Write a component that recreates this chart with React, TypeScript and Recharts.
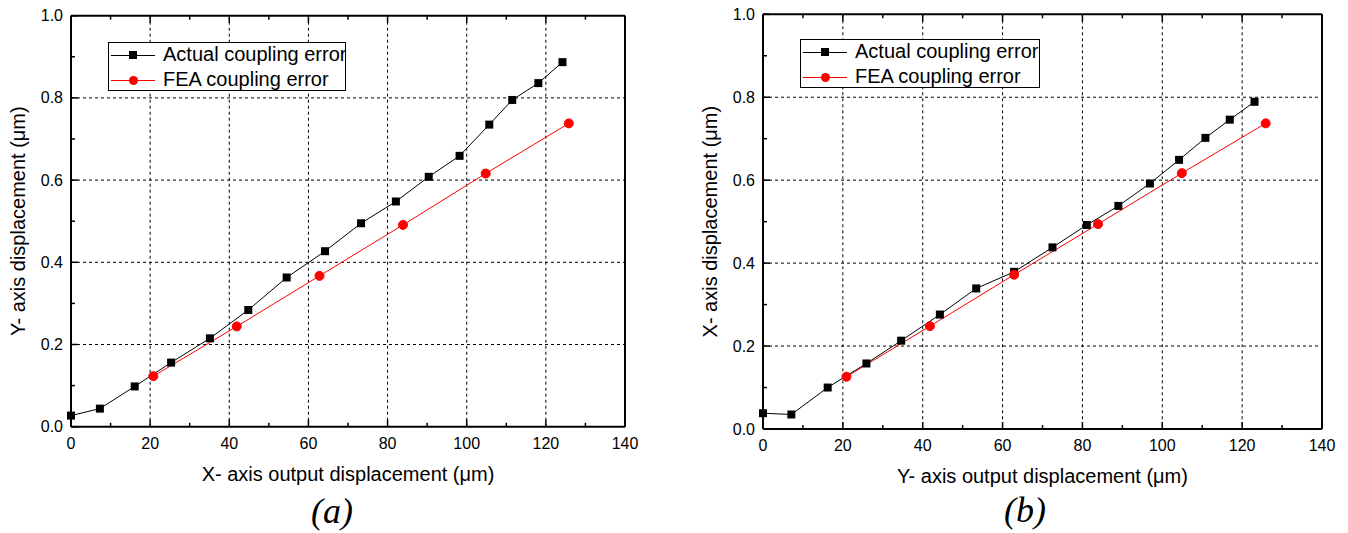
import { LineChart, Line, XAxis, YAxis, CartesianGrid, Legend, Label } from 'recharts';

const FONT = '"Liberation Sans", Arial, Helvetica, sans-serif';
const SERIF = '"Liberation Serif", "Times New Roman", serif';

// axis ticks (majors get labels + grid, minors only a short inward mark)
const X_TICKS = [0, 10, 20, 30, 40, 50, 60, 70, 80, 90, 100, 110, 120, 130, 140];
const X_GRID = [20, 40, 60, 80, 100, 120];
const Y_TICKS = [0, 0.1, 0.2, 0.3, 0.4, 0.5, 0.6, 0.7, 0.8, 0.9, 1.0];
const Y_GRID = [0.2, 0.4, 0.6, 0.8];

// (a) X-axis output displacement vs Y-axis displacement
const aActualX = [0, 7.3, 16.1, 25.3, 35.1, 44.8, 54.5, 64.2, 73.3, 82.1, 90.4, 98.2, 105.7, 111.5, 118.1, 124.2];
const aActualY = [0.027, 0.044, 0.098, 0.156, 0.215, 0.284, 0.363, 0.427, 0.495, 0.548, 0.608, 0.659, 0.735, 0.795, 0.836, 0.887];
const aFeaX = [20.8, 41.9, 62.8, 83.9, 104.8, 125.8];
const aFeaY = [0.123, 0.244, 0.367, 0.491, 0.616, 0.738];

// (b) Y-axis output displacement vs X-axis displacement
const bActualX = [0, 7.1, 16.2, 25.9, 34.6, 44.3, 53.4, 62.9, 72.5, 81.1, 89.0, 96.9, 104.2, 110.8, 116.9, 123.1];
const bActualY = [0.038, 0.035, 0.1, 0.158, 0.213, 0.276, 0.339, 0.379, 0.438, 0.492, 0.538, 0.592, 0.649, 0.702, 0.746, 0.789];
const bFeaX = [20.9, 41.8, 62.9, 83.9, 104.9, 125.9];
const bFeaY = [0.126, 0.248, 0.372, 0.494, 0.617, 0.737];

const ACTUAL = 'Actual coupling error';
const FEA = 'FEA coupling error';

const toPoints = (xs: number[], ys: number[]) => xs.map((x, i) => ({ x, y: ys[i] }));

const isMajorX = (v: number) => v % 20 === 0;
const isMajorY = (v: number) => Math.round(v * 10) % 2 === 0;
const FRAME = { stroke: '#000', strokeWidth: 2 };

const tickBottom = ({ x, y, payload }: any) => (
    <g>
        <line x1={x} x2={x} y1={y} y2={y - (isMajorX(payload.value) ? 7 : 4)} stroke="#000" strokeWidth={1.5} />
        <text x={x} y={y + 22} textAnchor="middle" fontSize={16} fontFamily={FONT} fill="#000">
            {isMajorX(payload.value) ? payload.value : ''}
        </text>
    </g>
);

const tickTop = ({ x, y, payload }: any) => (
    <line x1={x} x2={x} y1={y} y2={y + (isMajorX(payload.value) ? 7 : 4)} stroke="#000" strokeWidth={1.5} />
);

const tickLeft = ({ x, y, payload }: any) => (
    <g>
        <line x1={x} x2={x + (isMajorY(payload.value) ? 7 : 4)} y1={y} y2={y} stroke="#000" strokeWidth={1.5} />
        <text x={x - 8} y={y + 5.5} textAnchor="end" fontSize={16} fontFamily={FONT} fill="#000">
            {isMajorY(payload.value) ? payload.value.toFixed(1) : ''}
        </text>
    </g>
);

const tickRight = ({ x, y, payload }: any) => (
    <line x1={x} x2={x - (isMajorY(payload.value) ? 7 : 4)} y1={y} y2={y} stroke="#000" strokeWidth={1.5} />
);

const SquareDot = ({ cx, cy }: any) => <rect x={cx - 4} y={cy - 4} width={8} height={8} fill="#000" />;

function LegendBox({ payload, width }: any) {
    const rows = (payload || []).filter((e: any) => e.value === ACTUAL || e.value === FEA);
    return (
        <div style={{ border: '1px solid #000', background: '#fff', width, height: 49, boxSizing: 'border-box', fontFamily: FONT, fontSize: 20, color: '#000' }}>
            {rows.map((entry: any, i: number) => (
                <div key={entry.value} style={{ display: 'flex', alignItems: 'center', height: 25, marginTop: i === 0 ? -1 : 0 }}>
                    <div style={{ position: 'relative', width: 44, height: 14, marginLeft: 2, flex: 'none' }}>
                        <div style={{ position: 'absolute', left: 0, top: 7, width: 44, height: 1, background: entry.color }} />
                        {entry.value === ACTUAL ? (
                            <div style={{ position: 'absolute', left: 18, top: 3.5, width: 8, height: 8, background: '#000' }} />
                        ) : (
                            <div style={{ position: 'absolute', left: 17.5, top: 3, width: 9, height: 9, borderRadius: '50%', background: entry.color }} />
                        )}
                    </div>
                    <span style={{ marginLeft: 8, whiteSpace: 'nowrap' }}>{entry.value}</span>
                </div>
            ))}
        </div>
    );
}

interface PanelProps {
    width: number;
    height: number;
    margin: { top: number; right: number; bottom: number; left: number };
    yAxisWidth: number;
    actual: { x: number; y: number }[];
    fea: { x: number; y: number }[];
    xTitle: string;
    yTitle: string;
    xTitleY: number;
    yTitleX: number;
    tag: string;
    tagX: number;
    tagY: number;
    legendLeft: number;
    legendTop: number;
    legendWidth: number;
    useLabels: boolean;
}

function Panel(p: PanelProps) {
    const plotTop = p.margin.top + 1;
    const plotBottom = p.height - p.margin.bottom - 60;
    const plotLeft = p.margin.left + p.yAxisWidth;
    const plotRight = p.width - p.margin.right - 1;
    return (
        <div style={{ position: 'relative', width: p.width, height: p.height }}>
            <LineChart width={p.width} height={p.height} margin={p.margin} data={p.actual}>
                <CartesianGrid xAxisId="b" yAxisId="l" stroke="#000" strokeDasharray="3 3" verticalValues={X_GRID} horizontalValues={Y_GRID} />
                <XAxis xAxisId="b" dataKey="x" type="number" domain={[0, 140]} ticks={X_TICKS} interval={0} height={60} stroke="#000" tickSize={0} tickMargin={0} tickLine={false} tick={tickBottom} axisLine={FRAME}>
                    {p.useLabels && <Label value={p.xTitle} position="insideBottom" offset={plotBottom + 60 - p.xTitleY} />}
                </XAxis>
                <XAxis xAxisId="t" dataKey="x" type="number" orientation="top" domain={[0, 140]} ticks={X_TICKS} interval={0} height={1} stroke="#000" tickSize={0} tickMargin={0} tickLine={false} tick={tickTop} axisLine={FRAME} />
                <YAxis yAxisId="l" type="number" domain={[0, 1]} ticks={Y_TICKS} interval={0} width={p.yAxisWidth} stroke="#000" tickSize={0} tickMargin={0} tickLine={false} tick={tickLeft} axisLine={FRAME} />
                <YAxis yAxisId="r" type="number" orientation="right" domain={[0, 1]} ticks={Y_TICKS} interval={0} width={1} stroke="#000" tickSize={0} tickMargin={0} tickLine={false} tick={tickRight} axisLine={FRAME} />
                <Legend
                    layout="vertical"
                    align="center"
                    verticalAlign="middle"
                    wrapperStyle={{ left: p.legendLeft, top: p.legendTop, width: p.legendWidth }}
                    content={(props: any) => <LegendBox {...props} width={p.legendWidth} />}
                />
                <Line xAxisId="b" yAxisId="l" data={p.actual} dataKey="y" name={ACTUAL} stroke="#000" dot={<SquareDot />} isAnimationActive={false} />
                <Line xAxisId="b" yAxisId="l" data={p.fea} dataKey="y" name={FEA} stroke="#f00" dot={{ r: 4.5, fill: '#f00' }} isAnimationActive={false} />
            </LineChart>
            {/* titles and panel tag */}
            <svg width={p.width} height={p.height} style={{ position: 'absolute', left: 0, top: 0, pointerEvents: 'none' }}>
                {!p.useLabels && (
                    <text x={(plotLeft + plotRight) / 2} y={p.xTitleY} textAnchor="middle" fontFamily={FONT} fontSize={20} fill="#000">
                        {p.xTitle}
                    </text>
                )}
                <text
                    x={p.yTitleX}
                    y={(plotTop + plotBottom) / 2}
                    transform={`rotate(-90 ${p.yTitleX} ${(plotTop + plotBottom) / 2})`}
                    textAnchor="middle"
                    dominantBaseline="central"
                    fontFamily={FONT}
                    fontSize={20}
                    fill="#000"
                >
                    {p.yTitle}
                </text>
                <text x={p.tagX} y={p.tagY} textAnchor="middle" fontFamily={SERIF} fontStyle="italic" fontSize={36} fill="#000">
                    {p.tag}
                </text>
            </svg>
        </div>
    );
}

export default function App() {
    return (
        <div style={{ position: 'absolute', left: 0, top: 0, width: 1348, height: 533, background: '#fff' }}>
            <div style={{ position: 'absolute', left: 0, top: 0 }}>
                <Panel
                    width={690}
                    height={533}
                    margin={{ top: 14.7, right: 64, bottom: 46.3, left: 0 }}
                    yAxisWidth={71}
                    actual={toPoints(aActualX, aActualY)}
                    fea={toPoints(aFeaX, aFeaY)}
                    xTitle="X- axis output displacement (μm)"
                    yTitle="Y- axis displacement (μm)"
                    xTitleY={480.5}
                    yTitleX={18.5}
                    tag="(a)"
                    tagX={332}
                    tagY={523}
                    legendLeft={108}
                    legendTop={42}
                    legendWidth={238}
                    useLabels={false}
                />
            </div>
            <div style={{ position: 'absolute', left: 690, top: 0 }}>
                <Panel
                    width={658}
                    height={533}
                    margin={{ top: 13.3, right: 25, bottom: 44, left: 0 }}
                    yAxisWidth={73}
                    actual={toPoints(bActualX, bActualY)}
                    fea={toPoints(bFeaX, bFeaY)}
                    xTitle="Y- axis output displacement (μm)"
                    yTitle="X- axis displacement (μm)"
                    xTitleY={483}
                    yTitleX={20}
                    tag="(b)"
                    tagX={335}
                    tagY={522}
                    legendLeft={110}
                    legendTop={39}
                    legendWidth={240}
                    useLabels={false}
                />
            </div>
        </div>
    );
}
